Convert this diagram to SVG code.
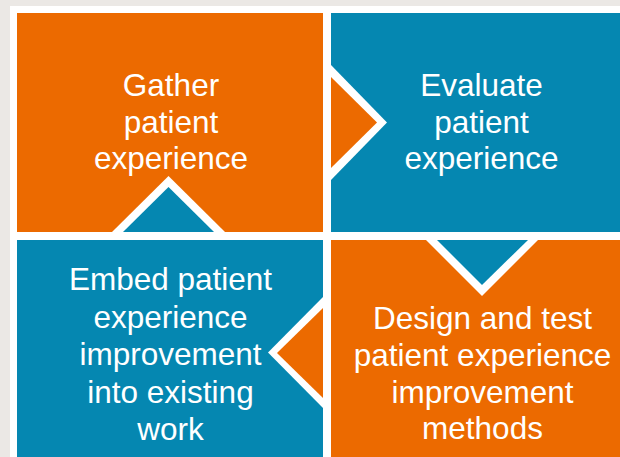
<svg xmlns="http://www.w3.org/2000/svg" width="620" height="457" viewBox="0 0 620 457">
  <style>
    .orange { fill: #EC6A00; }
    .blue { fill: #0587B1; }
    .white { fill: #FFFFFF; }
    .lbl { fill: #FFFFFF; font-family: "Liberation Sans", Arial, Helvetica, sans-serif; font-size: 31.5px; text-anchor: middle; }
  </style>
  <rect x="0" y="0" width="620" height="457" fill="#EBE8E5"/>
  <rect x="10" y="6" width="610" height="451" class="white"/>

  <g id="gather">
    <rect x="17" y="13" width="306" height="219" class="orange"/>
    <text class="lbl" x="171" y="96">Gather</text>
    <text class="lbl" x="171" y="133">patient</text>
    <text class="lbl" x="171" y="168.5">experience</text>
  </g>
  <g id="evaluate">
    <rect x="331" y="13" width="289" height="219" class="blue"/>
    <text class="lbl" x="481.5" y="96">Evaluate</text>
    <text class="lbl" x="481.5" y="133">patient</text>
    <text class="lbl" x="481.5" y="168.5">experience</text>
  </g>
  <g id="embed">
    <rect x="17" y="240" width="306" height="217" class="blue"/>
    <text class="lbl" x="170.5" y="290">Embed patient</text>
    <text class="lbl" x="170.5" y="327.5">experience</text>
    <text class="lbl" x="170.5" y="365">improvement</text>
    <text class="lbl" x="170.5" y="402.5">into existing</text>
    <text class="lbl" x="170.5" y="440">work</text>
  </g>
  <g id="design">
    <rect x="331" y="240" width="289" height="217" class="orange"/>
    <text class="lbl" x="482.5" y="329">Design and test</text>
    <text class="lbl" x="482.5" y="365.5">patient experience</text>
    <text class="lbl" x="482.5" y="402.5">improvement</text>
    <text class="lbl" x="482.5" y="439">methods</text>
  </g>

  <g id="connectors">
    <g id="arrow-gather-evaluate">
      <polygon class="white" points="331,65 387,122.5 331,180"/>
      <polygon class="orange" points="331,77 377,122.5 331,168"/>
    </g>
    <g id="arrow-evaluate-design">
      <polygon class="white" points="426,240 482,296 538,240"/>
      <polygon class="blue" points="437,240 482,285 528,240"/>
    </g>
    <g id="arrow-design-embed">
      <polygon class="white" points="323,297 268,352.5 323,408"/>
      <polygon class="orange" points="323,308 277,353 323,398"/>
    </g>
    <g id="arrow-embed-gather">
      <polygon class="white" points="112,232 168.5,176 225,232"/>
      <polygon class="blue" points="123,232 168.5,187 214,232"/>
    </g>
  </g>
</svg>
